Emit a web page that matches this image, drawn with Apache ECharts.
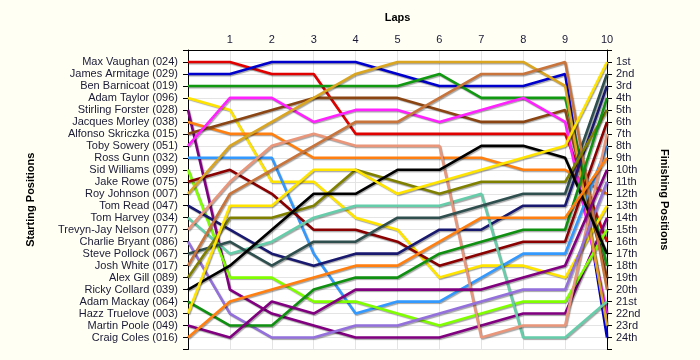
<!DOCTYPE html>
<html><head><meta charset="utf-8">
<script src="https://cdn.jsdelivr.net/npm/echarts@6/dist/echarts.min.js"></script>
<style>html,body{margin:0;padding:0;background:#fffff4}#c{width:700px;height:360px}</style>
</head><body><div id="c"></div>
<script>
const drivers = ['Max Vaughan (024)','James Armitage (029)','Ben Barnicoat (019)','Adam Taylor (096)','Stirling Forster (028)','Jacques Morley (038)','Alfonso Skriczka (015)','Toby Sowery (051)','Ross Gunn (032)','Sid Williams (099)','Jake Rowe (075)','Roy Johnson (007)','Tom Read (047)','Tom Harvey (034)','Trevyn-Jay Nelson (077)','Charlie Bryant (086)','Steve Pollock (067)','Josh White (017)','Alex Gill (089)','Ricky Collard (039)','Adam Mackay (064)','Hazz Truelove (003)','Martin Poole (049)','Craig Coles (016)'];
const finishLabels = ['1st','2nd','3rd','4th','5th','6th','7th','8th','9th','10th','11th','12th','13th','14th','15th','16th','17th','18th','19th','20th','21st','22nd','23rd','24th'];
const laps = [0,1,2,3,4,5,6,7,8,9,10];

// position of each driver at laps 0..10
const maxVaughan      = [1,1,2,2,7,7,7,7,7,7,16];
const jamesArmitage   = [2,2,1,1,1,2,3,3,3,2,24];
const benBarnicoat    = [3,3,3,3,3,3,2,4,4,4,18];
const adamTaylor      = [4,5,11,11,14,15,19,18,18,19,13];
const stirlingForster = [5,20,22,23,24,24,24,23,22,22,14];
const jacquesMorley   = [6,7,7,9,9,9,9,9,10,10,12];
const alfonsoSkriczka = [7,6,5,4,4,4,5,6,6,5,19];
const tobySowery      = [8,4,4,6,5,5,6,5,4,6,22];
const rossGunn        = [9,9,9,17,22,21,21,19,17,17,8];
const sidWilliams     = [10,19,19,21,21,22,23,22,21,21,15];
const jakeRowe        = [11,10,12,15,15,16,18,17,16,16,6];
const royJohnson      = [12,8,6,4,2,1,1,1,1,3,23];
const tomRead         = [13,15,17,18,17,17,15,15,13,13,3];
const tomHarvey       = [14,17,16,14,13,13,13,12,24,24,21];
const trevynJayNelson = [15,11,8,7,8,8,8,24,23,23,7];
const charlieBryant   = [16,22,24,24,23,23,22,21,20,20,11];
const stevePollock    = [17,16,18,16,16,14,14,13,12,12,2];
const joshWhite       = [18,12,10,8,6,6,4,2,2,1,20];
const alexGill        = [19,14,14,13,10,11,12,11,11,11,5];
const rickyCollard    = [20,18,15,12,12,10,10,8,8,9,17];
const adamMackay      = [21,23,23,20,19,19,17,16,15,15,4];
const hazzTruelove    = [22,13,13,10,10,12,11,10,9,8,1];
const martinPoole     = [23,24,21,22,20,20,20,20,19,18,10];
const craigColes      = [24,21,20,19,18,18,16,14,14,14,9];

const positions = [maxVaughan,jamesArmitage,benBarnicoat,adamTaylor,stirlingForster,jacquesMorley,alfonsoSkriczka,tobySowery,rossGunn,sidWilliams,jakeRowe,royJohnson,tomRead,tomHarvey,trevynJayNelson,charlieBryant,stevePollock,joshWhite,alexGill,rickyCollard,adamMackay,hazzTruelove,martinPoole,craigColes];

const colors = ['#e00000','#0000cc','#119911','#ffe400','#800080','#ff8010','#8b4513','#ff22ff','#3399ff','#80ff00','#8b0000','#daa520','#191970','#66cdaa','#e9967a','#9370db','#2f4f4f','#c8743a','#808000','#000000','#109010','#ffe400','#800080','#ff8010'];

const chart = echarts.init(document.getElementById('c'), null, {renderer:'canvas'});
const labelColor = '#1a1a36';
const font = 'Arial, "Liberation Sans", sans-serif';

const yBase = {
  type:'value', inverse:true, min:0, max:25, interval:1,
  axisLine:{show:true, lineStyle:{color:'#000', width:1}},
  axisTick:{show:true, length:5, lineStyle:{color:'#000'}},
  nameLocation:'middle',
  nameTextStyle:{fontFamily:font, fontWeight:'bold', fontSize:11, color:'#000'}
};

chart.setOption({
  animation:false,
  backgroundColor:'#fffff4',
  grid:{left:188, right:93, top:50, bottom:10.5, show:true, backgroundColor:'#ffffff', borderWidth:0},
  xAxis:{
    type:'value', position:'top', min:0, max:10, interval:1,
    name:'Laps', nameLocation:'middle', nameGap:27,
    nameTextStyle:{fontFamily:font, fontWeight:'bold', fontSize:11, color:'#000'},
    axisLine:{show:true, lineStyle:{color:'#000', width:1}},
    axisTick:{show:false},
    axisLabel:{fontFamily:font, fontSize:11, color:labelColor, margin:5,
      formatter:v => v === 0 ? '' : String(laps[v])},
    splitLine:{show:true, lineStyle:{color:'#e4e4e4', width:1}}
  },
  yAxis:[
    Object.assign({}, yBase, {
      position:'left', name:'Starting Positions', nameRotate:90, nameGap:152,
      axisLabel:{fontFamily:font, fontSize:11, color:labelColor, margin:10,
        formatter:v => (v>=1 && v<=24) ? drivers[v-1] : ''},
      splitLine:{show:true, lineStyle:{color:'#e4e4e4', width:1}}
    }),
    Object.assign({}, yBase, {
      position:'right', name:'Finishing Positions', nameRotate:-90, nameGap:52,
      axisLabel:{fontFamily:font, fontSize:11, color:labelColor, margin:9,
        formatter:v => (v>=1 && v<=24) ? finishLabels[v-1] : ''},
      splitLine:{show:false}
    })
  ],
  series: positions.map((p,i) => ({
    type:'line', name:drivers[i], yAxisIndex:0,
    data: p.map((pos,lap) => [laps[lap], pos]),
    symbol:'none', silent:true,
    lineStyle:{color:colors[i], width:2.6, shadowColor:'rgba(0,0,0,0.35)', shadowOffsetX:1, shadowOffsetY:1.2, shadowBlur:1}
  }))
});
</script></body></html>
